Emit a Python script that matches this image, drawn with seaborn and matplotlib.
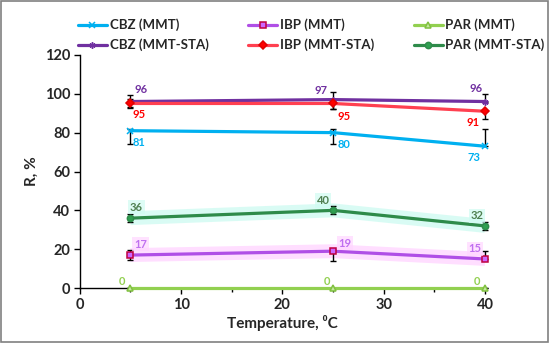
import matplotlib
matplotlib.use("Agg")
import matplotlib.pyplot as plt
import seaborn as sns
import pandas as pd
from matplotlib.patches import Rectangle
from matplotlib.ticker import MultipleLocator

# ---- data ----
temps = [5, 25, 40]
series_names = ["CBZ (MMT)", "CBZ (MMT-STA)", "IBP (MMT)", "IBP (MMT-STA)", "PAR (MMT)", "PAR (MMT-STA)"]
cbz_mmt = [81, 80, 73]
cbz_sta = [96, 97, 96]
ibp_mmt = [17, 19, 15]
ibp_sta = [95, 95, 91]
par_mmt = [0, 0, 0]
par_sta = [36, 40, 32]

cbz_mmt_err = ([7, 6, 0], [1, 2, 9])
cbz_sta_err = ([3, 5, 0], [3.5, 4, 4])
ibp_mmt_err = ([2.5, 5, 0], [2.5, 0.5, 4])
ibp_sta_err = ([2.5, 3, 4], [2.5, 0, 0])
par_mmt_err = ([0, 0, 0], [0, 0, 0])
par_sta_err = ([2, 2, 2], [2, 2, 2])

sns.set_theme(style="white")
plt.rcParams["font.family"] = ["Lato", "DejaVu Sans"]
plt.rcParams["font.weight"] = "bold"

fig = plt.figure(figsize=(5.5, 3.43), dpi=100)
ax = fig.add_axes([0.145, 0.160, 0.737, 0.680])

styles = [
    (cbz_mmt, cbz_mmt_err, "#00B0F0", "x", "#00B0F0", "#00B0F0", "#00B0F0",
     [(9, -12), (11, -12), (-11, -11)], None),
    (cbz_sta, cbz_sta_err, "#7030A0", (6, 2, 0), "#7030A0", "#7030A0", "#7030A0",
     [(11, 12), (-12, 9), (-9, 13)], None),
    (ibp_mmt, ibp_mmt_err, "#B04FE6", "s", "#CC66FF", "#C00040", "#C070F0",
     [(10, 11), (12, 8), (-10, 10)], "#FFD6FF"),
    (ibp_sta, ibp_sta_err, "#FF4050", "D", "#FF0000", "#E00000", "#FF0000",
     [(9, -11), (11, -13), (-12, -11)], None),
    (par_mmt, par_mmt_err, "#92D050", "^", "#C4E8A0", "#80C040", "#92D050",
     [(-8, 7), (-6, 7), (-8, 7)], None),
    (par_sta, par_sta_err, "#2E8B4A", "o", "#2EA050", "#2E8B4A", "#4F8050",
     [(6, 11), (-10, 10), (-8, 10)], "#D0FBF2"),
]

for name, (vals, err, col, mk, mfc, mec, lcol, offs, glow) in zip(series_names, styles):
    df = pd.DataFrame({"T": temps, "R": vals})
    if glow is not None:
        sns.lineplot(data=df, x="T", y="R", ax=ax, color=glow, linewidth=10,
                     alpha=0.8, legend=False, zorder=1, solid_capstyle="butt")
    ax.errorbar(temps, vals, yerr=[err[0], err[1]], fmt="none", ecolor="black",
                elinewidth=1, capsize=2.5, capthick=1, zorder=3, clip_on=False)
    sns.lineplot(data=df, x="T", y="R", ax=ax, color=col, linewidth=2.3,
                 marker=mk, markersize=4.5, markerfacecolor=mfc, markeredgecolor=mec,
                 markeredgewidth=1.1, label=name, zorder=4, clip_on=False)
    for t, v, (dx, dy) in zip(temps, vals, offs):
        ax.annotate(f"{v}", (t, v), xytext=(dx, dy), textcoords="offset pixels",
                    ha="center", va="center", fontsize=8, fontweight="bold",
                    color=lcol, zorder=5,
                    bbox=(dict(boxstyle="square,pad=0.15", fc=glow, ec="none", alpha=0.7)
                          if glow is not None else None))

ax.set_xlim(0, 40)
ax.set_ylim(0, 120)
ax.xaxis.set_major_locator(MultipleLocator(10))
ax.xaxis.set_minor_locator(MultipleLocator(5))
ax.yaxis.set_major_locator(MultipleLocator(20))
for s in ["top", "right"]:
    ax.spines[s].set_visible(False)
for s in ["left", "bottom"]:
    ax.spines[s].set_color("black")
    ax.spines[s].set_linewidth(1)
ax.tick_params(axis="both", which="major", direction="out", length=4, width=1,
               color="black", labelsize=10.5, pad=3, bottom=True, left=True)
ax.tick_params(axis="x", which="minor", direction="out", length=3, width=1,
               color="black", bottom=True)
for lab in ax.get_xticklabels() + ax.get_yticklabels():
    lab.set_fontweight("bold")
ax.set_xlabel("Temperature, \u2070C", fontsize=11, fontweight="bold", labelpad=2)
ax.set_ylabel("R, %", fontsize=11, fontweight="bold", labelpad=4)

handles, labels = ax.get_legend_handles_labels()
ax.get_legend().remove()
fig.legend(handles, labels, loc="upper left", bbox_to_anchor=(0.12, 0.98), ncol=3,
           frameon=False, handlelength=2.2, handletextpad=0.2,
           columnspacing=3.0, labelspacing=0.55, prop={"weight": "bold", "size": 9.5})

fig.patches.append(Rectangle((0.002, 0.003), 0.995, 0.993, transform=fig.transFigure,
                             fill=False, edgecolor="#808080", linewidth=1.2))

fig.savefig("out.png", dpi=100)
